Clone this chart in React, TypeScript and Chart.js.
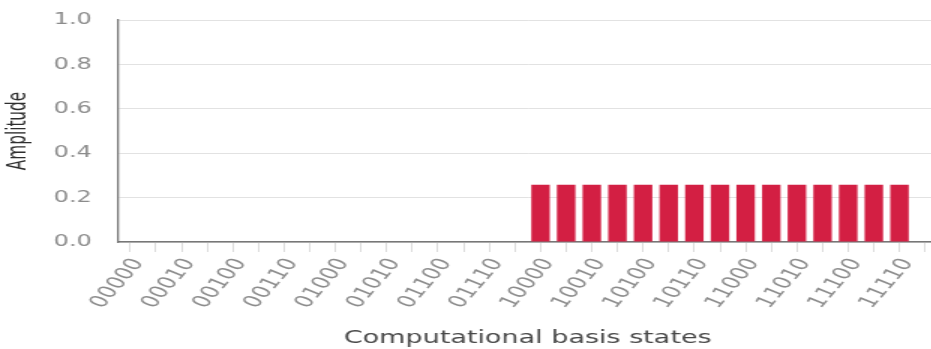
import { useEffect, useRef } from 'react';
import { Chart, registerables } from 'chart.js';

Chart.register(...registerables);

// All 32 five-qubit computational basis states
const basisStates = [
  '00000', '00001', '00010', '00011', '00100', '00101', '00110', '00111',
  '01000', '01001', '01010', '01011', '01100', '01101', '01110', '01111',
  '10000', '10001', '10010', '10011', '10100', '10101', '10110', '10111',
  '11000', '11001', '11010', '11011', '11100', '11101', '11110', '11111',
];

// Amplitude of each basis state
const amplitudes = [
  0, 0, 0, 0, 0, 0, 0, 0,
  0, 0, 0, 0, 0, 0, 0, 0,
  0.258, 0.258, 0.258, 0.258, 0.258, 0.258, 0.258, 0.258,
  0.258, 0.258, 0.258, 0.258, 0.258, 0.258, 0.258, 0,
];

// Category labels printed under the axis (every other state)
const shownStateLabels = [
  '00000', '00010', '00100', '00110', '01000', '01010', '01100', '01110',
  '10000', '10010', '10100', '10110', '11000', '11010', '11100', '11110',
];

const yTickValues = [0, 0.2, 0.4, 0.6, 0.8, 1.0];

// The drawing is rendered on a narrower canvas and widened by CSS
const STRETCH = 1.5;
const CANVAS_W = 630;
const CANVAS_H = 349;

const FONT = '"DejaVu Sans", sans-serif';

export default function App() {
  const canvasRef = useRef<HTMLCanvasElement>(null);

  useEffect(() => {
    const canvas = canvasRef.current;
    if (!canvas) return;
    const chart = new Chart(canvas, {
      type: 'bar',
      data: {
        labels: basisStates,
        datasets: [
          {
            data: amplitudes,
            backgroundColor: '#d31f43',
            borderWidth: 0,
            barPercentage: 0.9,
            categoryPercentage: 0.8,
          },
        ],
      },
      options: {
        responsive: false,
        animation: false,
        devicePixelRatio: 1,
        layout: { padding: { top: 20, right: 4.7, bottom: 0, left: 0 } },
        plugins: {
          legend: { display: false },
          tooltip: { enabled: false },
        },
        scales: {
          x: {
            grid: {
              display: true,
              offset: false,
              drawOnChartArea: false,
              drawTicks: true,
              tickLength: 10,
              color: '#dcdcdc',
              lineWidth: 1,
            },
            border: { display: true, color: '#777777', width: 1.5 },
            ticks: {
              autoSkip: false,
              minRotation: 59,
              maxRotation: 59,
              padding: 3,
              labelOffset: 5.5,
              color: '#8c8c8c',
              font: { family: FONT, size: 17 },
              callback: (_v: any, i: number) =>
                shownStateLabels.includes(basisStates[i]) ? basisStates[i] : '',
            },
            title: {
              display: true,
              text: 'Computational basis states',
              color: '#484848',
              font: { family: FONT, size: 18 },
              padding: { top: 0, bottom: 0 },
            },
            afterFit: (scale: any) => {
              scale.height = 107;
              scale.paddingLeft = 0;
              scale.paddingRight = 0;
            },
          },
          y: {
            min: 0,
            max: 1,
            afterBuildTicks: (scale: any) => {
              scale.ticks = yTickValues.map((v) => ({ value: v }));
            },
            grid: { color: '#e2e2e2', drawTicks: false, lineWidth: 1 },
            border: { display: true, color: '#777777', width: 1.3 },
            ticks: {
              padding: 17,
              color: '#8c8c8c',
              font: { family: FONT, size: 16 },
              callback: (v: any) => Number(v).toFixed(1),
            },
            title: {
              display: true,
              text: 'Amplitude',
              color: '#2e2e2e',
              font: { family: '"DejaVu Sans Condensed", "Liberation Sans", sans-serif', size: 17 },
              padding: { top: 2, bottom: 0 },
            },
            afterFit: (scale: any) => {
              scale.width = 78.3;
              scale.paddingTop = 0;
              scale.paddingBottom = 0;
            },
          },
        },
      },
    });
    return () => chart.destroy();
  }, []);

  return (
    <div
      style={{
        position: 'fixed',
        left: 0,
        top: 0,
        width: 931,
        height: 349,
        overflow: 'hidden',
        background: '#ffffff',
      }}
    >
      <canvas
        ref={canvasRef}
        width={CANVAS_W}
        height={CANVAS_H}
        style={{
          display: 'block',
          width: `${CANVAS_W * STRETCH}px`,
          height: `${CANVAS_H}px`,
        }}
      />
    </div>
  );
}
